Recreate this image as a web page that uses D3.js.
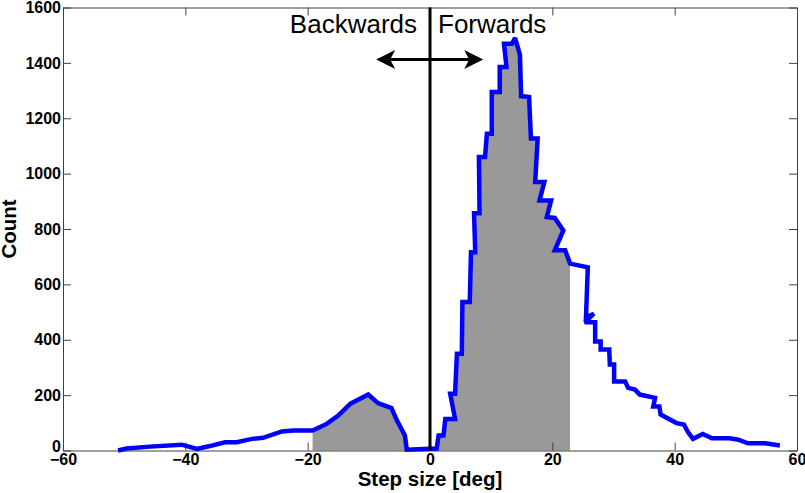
<!DOCTYPE html>
<html><head><meta charset="utf-8">
<script src="https://cdn.jsdelivr.net/npm/d3@7"></script>
<style>body{margin:0;background:#fff}</style>
</head><body><svg id="chart" width="805" height="493" style="background:#fff"></svg>
<script>
// ---- data ----
const stepX = [-51, -49.6, -45.8, -40.6, -38.1, -36.0, -33.5, -31.6, -29.1, -27.3, -24.2, -22.3, -19.2,
  -16.9, -15.0, -13.0, -10.1, -8.5, -6.3, -5.4, -4.1, -3.8, 0, 1.1,
  1.4, 2.2, 2.5, 4.1, 3.3, 4.1, 4.4, 5.2, 5.3, 6.5, 6.7, 7.4, 7.2, 8.1, 8.0, 9.0, 9.3, 10.1, 10.1, 11.4,
  11.4, 12.5, 12.1, 13.4, 13.9, 14.7, 14.9, 16.2, 16.5, 17.6, 17.2, 18.7, 17.9, 19.8, 19.1, 20.4, 21.8,
  20.4, 22.1, 22.9, 25.8, 25.5, 26.8, 25.3, 27.0, 27.0, 27.9, 27.9, 29.3, 29.4, 30.1, 30.1, 31.9, 32.4,
  33.5, 34.3, 36.8, 36.5, 37.5, 37.7, 40.3, 41.5, 42.2, 43.0, 44.6, 46.1, 49.0, 50.4, 52.0, 54.8, 57.2];
const stepCount = [0, 7, 14, 21, 6, 16, 30, 30, 42, 46, 69, 72, 72,
  96, 126, 169, 202, 171, 153, 108, 54, 3, 6, 7,
  54, 54, 114, 114, 205, 205, 349, 349, 536, 536, 716, 716, 857, 857, 1060, 1060, 1144, 1144, 1295, 1295,
  1385, 1385, 1469, 1469, 1490, 1430, 1280, 1277, 1127, 1127, 970, 970, 903, 903, 843, 840, 795,
  723, 723, 675, 662, 481, 494, 463, 463, 394, 394, 365, 365, 311, 311, 249, 249, 226,
  220, 202, 190, 159, 159, 130, 99, 94, 66, 42, 60, 44, 44, 39, 26, 26, 18];
const fillRange = [-19.2, 22.9];
const xTicks = [-60, -40, -20, 0, 20, 40, 60];
const yTicks = [0, 200, 400, 600, 800, 1000, 1200, 1400, 1600];
const arrowRange = [-8.8, 8.7];
const arrowLevel = 1412;
const backLabel = "Backwards";
const fwdLabel = "Forwards";
const xTitle = "Step size [deg]";
const yTitle = "Count";

// ---- drawing ----
const points = stepX.map((v, i) => ({x: v, c: stepCount[i]}));
const svg = d3.select("#chart");
const font = "'Liberation Sans', Arial, Helvetica, sans-serif";
const axisColor = "#404040";

const x = d3.scaleLinear().domain([-60, 60]).range([63, 797]);
const y = d3.scaleLinear().domain([0, 1600]).range([450.5, 7.5]);

// fill
const i0 = points.findIndex(p => p.x >= fillRange[0]);
let i1 = 0; points.forEach((p, i) => { if (p.x <= fillRange[1]) i1 = i; });
const fillPts = points.slice(i0, i1 + 1);
svg.append("path")
  .datum(fillPts)
  .attr("d", d3.area().x(d => x(d.x)).y0(y(0)).y1(d => y(d.c)))
  .attr("fill", "#999999");

function styleAxis(g) {
  g.select(".domain").attr("stroke", axisColor).attr("stroke-width", 1);
  g.selectAll(".tick line").attr("stroke", axisColor).attr("stroke-width", 1);
  g.selectAll("text").attr("fill", "#000")
    .style("font-weight", "bold").style("font-size", "16px").style("font-family", font);
}
svg.append("g").attr("transform", `translate(0,${y(0)})`)
  .call(d3.axisBottom(x).tickValues(xTicks).tickSize(-8).tickSizeOuter(0).tickPadding(3.5).tickFormat(d3.format("d")))
  .call(styleAxis);
svg.append("g").attr("transform", `translate(0,${y(1600)})`)
  .call(d3.axisTop(x).tickValues(xTicks).tickSize(-8).tickSizeOuter(0).tickFormat(""))
  .call(styleAxis);
const yAxisG = svg.append("g").attr("transform", `translate(${x(-60)},0)`)
  .call(d3.axisLeft(y).tickValues(yTicks).tickSize(-8).tickSizeOuter(0).tickPadding(2).tickFormat(d3.format("d")))
  .call(styleAxis);
// the "0" label sits slightly raised in the reference
yAxisG.selectAll(".tick").filter(d => d === 0).select("text").attr("y", -4);
svg.append("g").attr("transform", `translate(${x(60)},0)`)
  .call(d3.axisRight(y).tickValues(yTicks).tickSize(-8).tickSizeOuter(0).tickFormat(""))
  .call(styleAxis);

// curve
svg.append("path")
  .datum(points)
  .attr("d", d3.line().x(d => x(d.x)).y(d => y(d.c)))
  .attr("fill", "none").attr("stroke", "#0000ff").attr("stroke-width", 4.5)
  .attr("stroke-linejoin", "miter").attr("stroke-miterlimit", 2);

// vertical zero line
svg.append("line")
  .attr("x1", x(0)).attr("x2", x(0)).attr("y1", y(1600)).attr("y2", y(0))
  .attr("stroke", "#000").attr("stroke-width", 3);

// double arrow
const ay = y(arrowLevel), ax0 = x(arrowRange[0]), ax1 = x(arrowRange[1]);
svg.append("line").attr("x1", ax0 + 12).attr("x2", ax1 - 12).attr("y1", ay).attr("y2", ay)
  .attr("stroke", "#000").attr("stroke-width", 3);
svg.append("path")
  .attr("d", `M${ax0},${ay} L${ax0 + 19},${ay - 9.5} L${ax0 + 14},${ay} L${ax0 + 19},${ay + 9.5} Z`)
  .attr("fill", "#000");
svg.append("path")
  .attr("d", `M${ax1},${ay} L${ax1 - 19},${ay - 9.5} L${ax1 - 14},${ay} L${ax1 - 19},${ay + 9.5} Z`)
  .attr("fill", "#000");

// annotations
svg.append("text").attr("x", x(0) - 13).attr("y", 33).attr("text-anchor", "end")
  .style("font-family", font).style("font-size", "26px").text(backLabel);
svg.append("text").attr("x", x(0) + 8).attr("y", 33).attr("text-anchor", "start")
  .style("font-family", font).style("font-size", "26px").text(fwdLabel);

// axis titles
svg.append("text").attr("x", (x(-60) + x(60)) / 2).attr("y", 486).attr("text-anchor", "middle")
  .style("font-family", font).style("font-size", "20.5px").style("font-weight", "bold").text(xTitle);
svg.append("text").attr("transform", `translate(16,${(y(0) + y(1600)) / 2}) rotate(-90)`)
  .attr("text-anchor", "middle")
  .style("font-family", font).style("font-size", "20.5px").style("font-weight", "bold").text(yTitle);
</script>
</body></html>
